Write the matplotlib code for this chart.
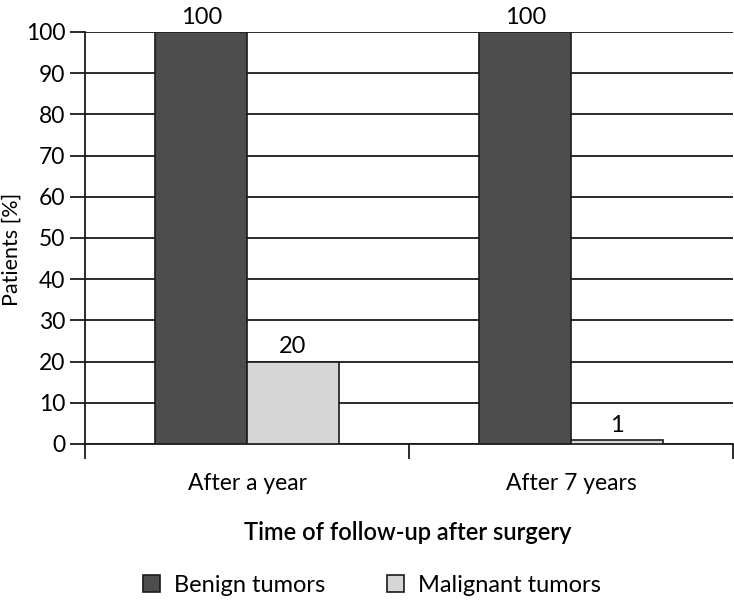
import matplotlib.pyplot as plt
import numpy as np

plt.rcParams['font.family'] = ['Lato', 'DejaVu Sans']

# Data
categories = ['After a year', 'After 7 years']
benign = [100, 100]
malignant = [20, 1]
series_names = ['Benign tumors', 'Malignant tumors']

fig = plt.figure(figsize=(7.34, 6.03), dpi=100)
ax = fig.add_axes([85 / 734, 1 - 444 / 603, 648 / 734, 412 / 603])

x = np.arange(len(categories))
w = 0.283

b1 = ax.bar(x - w / 2, benign, w, color='#4d4d4d', edgecolor='#1a1a1a', linewidth=1.2,
            label=series_names[0], zorder=3)
b2 = ax.bar(x + w / 2, malignant, w, color='#d6d6d6', edgecolor='#1a1a1a', linewidth=1.2,
            label=series_names[1], zorder=3)
ax.bar_label(b1, fontsize=17, padding=3)
ax.bar_label(b2, fontsize=17, padding=3)

ax.set_xlim(-0.5, 1.5)
ax.set_ylim(0, 100)
ax.set_yticks(range(0, 101, 10))
ax.yaxis.grid(True, color='#1a1a1a', linewidth=1.3, zorder=0)
ax.set_axisbelow(True)

ax.set_xticks(x)
ax.set_xticklabels(categories, fontsize=16.5)
ax.tick_params(axis='x', length=0, pad=21)
ax.set_xticks([-0.5, 0.5, 1.5], minor=True)
ax.tick_params(axis='x', which='minor', length=11, width=1.3, color='#1a1a1a')
ax.tick_params(axis='y', length=11, width=1.3, color='#1a1a1a', labelsize=16.5, pad=3)

for s in ['top', 'right']:
    ax.spines[s].set_visible(False)
ax.spines['left'].set_linewidth(1.3)
ax.spines['bottom'].set_linewidth(1.3)
ax.spines['left'].set_color('#1a1a1a')
ax.spines['bottom'].set_color('#1a1a1a')

# axis titles placed directly on the figure
fig.text(12 / 734, 1 - 249 / 603, 'Patients [%]', fontsize=15.5, rotation=90,
         ha='center', va='center')
fig.text(408 / 734, 1 - 533 / 603, 'Time of follow-up after surgery', fontsize=17,
         fontweight='semibold', ha='center', va='center')

fig.legend(loc='center', bbox_to_anchor=(372 / 734, 1 - 585 / 603), ncol=2, frameon=False,
           fontsize=17, handlelength=0.72, handleheight=0.72, columnspacing=2.6,
           handletextpad=0.6, borderpad=0)

fig.savefig('out.png', dpi=100)
